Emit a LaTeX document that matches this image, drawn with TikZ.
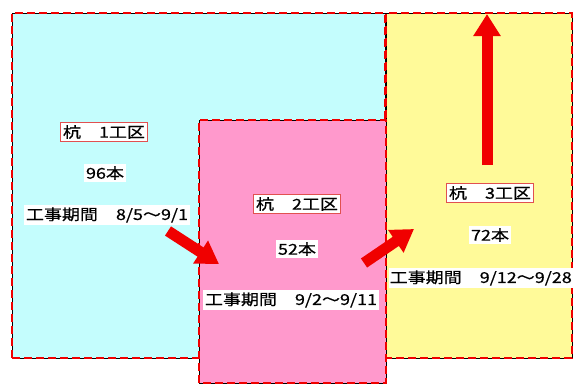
\documentclass[tikz,border=0pt]{standalone}
\usepackage{fontspec}
\newfontfamily\jp[FakeStretch=1.2,FakeBold=0.6]{Noto Sans CJK JP}
\usetikzlibrary{arrows.meta}
\definecolor{zcyan}{RGB}{196,253,253}
\definecolor{zpink}{RGB}{255,153,204}
\definecolor{zyellow}{RGB}{255,250,153}
\definecolor{zred}{RGB}{240,0,0}
\definecolor{boxred}{RGB}{225,80,80}
\tikzset{
  zone/.style={draw=black, line width=0.7pt},
  zonedash/.style={draw=zred, line width=2pt, dash pattern=on 8pt off 4pt},
  lbl/.style={fill=white, inner sep=2pt, font=\jp\fontsize{15}{17}\selectfont},
  title/.style={lbl, draw=boxred, line width=0.7pt, inner sep=2.5pt},
  bigarrow/.style={draw=zred, line width=11pt, -{Triangle[width=26pt,length=22pt]}}
}
\begin{document}
\begin{tikzpicture}[x=1pt,y=1pt]
\useasboundingbox (0,0) rectangle (573,384);
% zones (y = 384 - pixel y)
\path[fill=zcyan] (12,26) rectangle (385,371);
\path[fill=zyellow] (386,26) rectangle (572,371);
\path[zone] (12,26) rectangle (385,371);
\path[zonedash] (12,26) rectangle (385,371);
\path[zone] (386,26) rectangle (572,371);
\path[zonedash] (386,26) rectangle (572,371);
\path[fill=zpink] (199,1) rectangle (386,264);
\path[zone] (199,1) rectangle (386,264);
\path[zonedash] (199,1) rectangle (386,264);
% arrow coordinates
\coordinate (a1s) at (168,153);
\coordinate (a1e) at (219,120);
\coordinate (a2s) at (364,121);
\coordinate (a2e) at (414,155);
\coordinate (a3s) at (487,219);
\coordinate (a3e) at (487,370);
\draw[bigarrow] (a1s) -- (a1e);
\draw[bigarrow] (a2s) -- (a2e);
\draw[bigarrow] (a3s) -- (a3e);
% labels
\node[title] (t1) at (104,252) {杭　1工区};
\node[lbl] (n1) at (105,211) {96本};
\node[lbl] (p1) at (107,169) {工事期間　8/5～9/1};
\node[title] (t2) at (297,180) {杭　2工区};
\node[lbl] (n2) at (297,135) {52本};
\node[lbl] (p2) at (291,84) {工事期間　9/2～9/11};
\node[title] (t3) at (490,191) {杭　3工区};
\node[lbl] (n3) at (490,149) {72本};
\node[lbl, anchor=east, inner xsep=1pt] (p3) at (573,106) {工事期間　9/12～9/28};
\end{tikzpicture}
\end{document}
